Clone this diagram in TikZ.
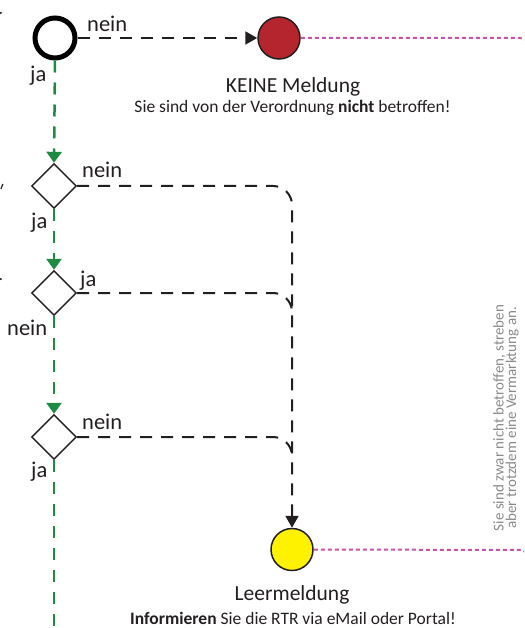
\documentclass[tikz,border=0pt]{standalone}
\usepackage{fontspec}
\setmainfont{Carlito}
\usetikzlibrary{shapes.geometric,arrows.meta}
\definecolor{txt}{HTML}{231F20}
\definecolor{flowgreen}{HTML}{1E8B43}
\definecolor{stopred}{HTML}{B5252D}
\definecolor{signyellow}{HTML}{FFF200}
\definecolor{magline}{HTML}{C653AC}
\definecolor{notegray}{HTML}{8A8A8A}
\begin{document}
\begin{tikzpicture}[x=1pt,y=-1pt,
  yesline/.style={draw=flowgreen, line width=2.5pt, dash pattern=on 12pt off 10pt},
  greentip/.style={-{Triangle[length=11pt,width=15pt]}},
  noline/.style={draw=txt, line width=2pt, dash pattern=on 12pt off 9pt},
  blacktip/.style={-{Triangle[length=12pt,width=13pt]}},
  magdot/.style={draw=magline, line width=2pt, dash pattern=on 4pt off 3pt},
  decision/.style={diamond, draw=txt, line width=1.4pt, fill=white, minimum size=45pt, inner sep=0pt},
  lbl/.style={font=\fontsize{22.5pt}{25pt}\selectfont, text=txt, inner sep=0pt},
  title/.style={font=\fontsize{21.5pt}{25pt}\selectfont, text=txt, inner sep=0pt, anchor=base},
  subtitle/.style={font=\fontsize{17.5pt}{20pt}\selectfont, text=txt, inner sep=0pt, anchor=base},
  note/.style={font=\fontsize{15pt}{12.5pt}\selectfont, text=notegray, inner sep=0pt, align=center, rotate=90}
]
\useasboundingbox (0,0) rectangle (524,628);
\clip (0,0) rectangle (524,628);

% nodes
\node[circle, draw=black, line width=5pt, minimum size=40pt, inner sep=0pt] (start) at (55,38) {};
\node[circle, draw=txt, fill=stopred, line width=1.5pt, minimum size=42pt, inner sep=0pt] (keine) at (279,38) {};
\node[decision] (d1) at (54,186) {};
\node[decision] (d2) at (54,293) {};
\node[decision] (d3) at (54,437) {};
\node[circle, draw=txt, fill=signyellow, line width=1.5pt, minimum size=42pt, inner sep=0pt] (leer) at (292,549.5) {};
\coordinate (bottomend) at (54,640);

% green yes-path
\draw[yesline, greentip] (start.south) -- (d1.north);
\draw[yesline, greentip] (d1.south) -- (d2.north);
\draw[yesline, greentip] (d2.south) -- (d3.north);
\draw[yesline] (d3.south) -- (bottomend);

% black no-paths
\draw[noline, blacktip] (start.east) -- (keine.west);
\draw[noline, blacktip, rounded corners=19pt] (d1.east) -- (292,186) -- (leer.north);
\draw[noline, rounded corners=19pt] (d2.east) -- (292,293) -- (292,312);
\draw[noline, rounded corners=19pt] (d3.east) -- (292,437) -- (292,456);

% magenta dotted lines
\draw[magdot, rounded corners=8pt] (keine.east) -- (528,38) -- (528,70);
\draw[magdot, rounded corners=8pt] (leer.east) -- (528,550) -- (528,600);

% labels
\node[lbl, anchor=base west] at (87,32) {nein};
\node[lbl, anchor=base west] at (30,82) {ja};
\node[lbl, anchor=base west] at (82,178) {nein};
\node[lbl, anchor=base west] at (31,228) {ja};
\node[lbl, anchor=base west] at (80,286) {ja};
\node[lbl, anchor=base west] at (7,335) {nein};
\node[lbl, anchor=base west] at (82,429) {nein};
\node[lbl, anchor=base west] at (31,477) {ja};

% result texts
\node[title] at (293,93) {KEINE Meldung};
\node[subtitle] at (292.5,113) {Sie sind von der Verordnung \textbf{nicht} betroffen!};
\node[title] at (292,600) {Leermeldung};
\node[subtitle] at (293,624) {\textbf{Informieren} Sie die RTR via eMail oder Portal!};

% rotated note
\node[note] at (506,418) {Sie sind zwar nicht betroffen, streben\\aber trotzdem eine Vermarktung an.};

% cut-off fragments at the left edge
\fill[txt] (0.8,13) circle (1.2pt);
\draw[txt, line width=1.2pt] (2.8,184) -- (1,189);
\fill[txt] (0.8,279) circle (1.2pt);
\end{tikzpicture}
\end{document}
